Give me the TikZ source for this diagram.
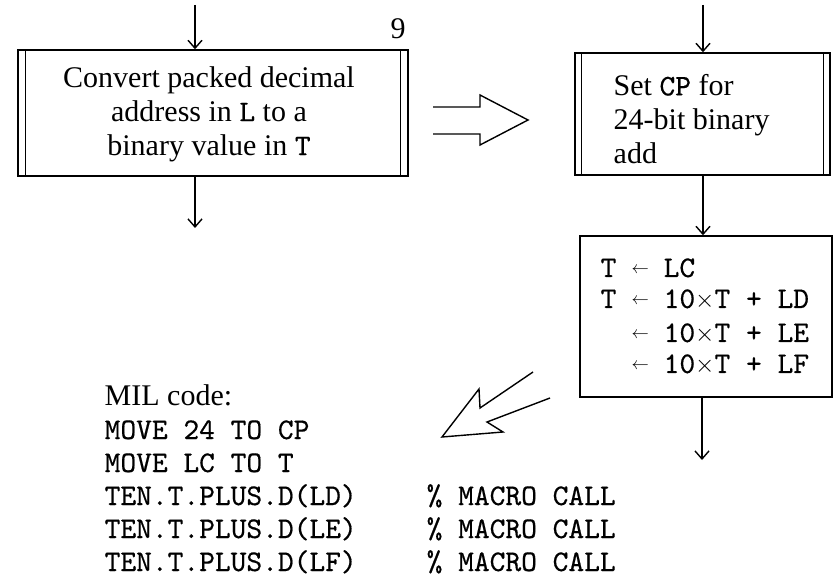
\documentclass[tikz,border=0pt]{standalone}
\usepackage{fontspec}
\setmainfont{Liberation Serif}
\setmonofont{lmmono10-regular}[Extension=.otf,FakeBold=0.5]
\usetikzlibrary{arrows.meta}
\begin{document}
\begin{tikzpicture}[x=1pt,y=-1pt,
  line width=1.4pt,
  flow/.style={-{Straight Barb[length=8pt,width=14pt,line width=1.4pt]}},
  txt/.style={inner sep=0pt,font=\fontsize{30}{34}\selectfont},
  code/.style={inner sep=0pt,anchor=base west,font=\ttfamily\fontsize{30}{32}\selectfont},
  lbl/.style={inner sep=0pt,anchor=base west,font=\fontsize{30}{34}\selectfont},
  arr/.style={inner sep=0pt,anchor=base west,font=\fontsize{17}{17}\selectfont},
  hollow/.style={line width=1.4pt,line join=miter}]
\useasboundingbox (0,0) rectangle (833,577);
% left subroutine box
\node[draw,minimum width=390pt,minimum height=126pt,inner sep=0pt] (box1) at (213,113) {};
\draw ([xshift=8pt]box1.north west) -- ([xshift=8pt]box1.south west);
\draw ([xshift=-8pt]box1.north east) -- ([xshift=-8pt]box1.south east);
\node[txt,align=center] (t1) at (209,114) {Convert packed decimal\\address in {\ttfamily L} to a\\binary value in {\ttfamily T}};
\node[lbl] (nine) at (390,39) {9};
\coordinate (in1) at (195,5);
\coordinate (out1) at (195,228);
\draw[flow] (in1) -- (in1 |- box1.north);
\draw[flow] (out1 |- box1.south) -- (out1);
% hollow right arrow
\draw[hollow] (433,107) -- (480,107) -- (480,95) -- (528,120) -- (480,145) -- (480,134) -- (433,134);
% right subroutine box
\node[draw,minimum width=255pt,minimum height=122pt,inner sep=0pt] (box2) at (702.5,114) {};
\draw ([xshift=7pt]box2.north west) -- ([xshift=7pt]box2.south west);
\draw ([xshift=-7pt]box2.north east) -- ([xshift=-7pt]box2.south east);
\node[txt,align=left,anchor=west] (t2) at (613,119) {Set {\ttfamily CP} for\\24-bit binary\\add};
\coordinate (in2) at (703,5);
\draw[flow] (in2) -- (in2 |- box2.north);
% process box
\node[draw,minimum width=252pt,minimum height=161pt,inner sep=0pt] (box3) at (706,316.5) {};
\draw[flow] (box2.south -| in2) -- (box3.north -| in2);
\coordinate (out3) at (702,460);
\draw[flow] (box3.south -| out3) -- (out3);
\node[code] (r1a) at (600,277) {T};
\node[arr] (r1b) at (631,274) {$\leftarrow$};
\node[code] (r1c) at (663,277) {LC};
\node[code] (r2a) at (600,308) {T};
\node[arr] (r2b) at (631,305) {$\leftarrow$};
\node[code] (r2c) at (663,308) {10$\times$T + LD};
\node[arr] (r3b) at (631,339) {$\leftarrow$};
\node[code] (r3c) at (663,342) {10$\times$T + LE};
\node[arr] (r4b) at (631,370) {$\leftarrow$};
\node[code] (r4c) at (663,373) {10$\times$T + LF};
% hollow diagonal arrow
\draw[hollow] (533,372) -- (480,408) -- (479,389) -- (442,437) -- (503,432) -- (487,422) -- (550,398);
% MIL code
\node[lbl] (m0) at (104,406) {MIL code:};
\node[code] (m1) at (104,439) {MOVE 24 TO CP};
\node[code] (m2) at (104,472) {MOVE LC TO T};
\node[code] (m3) at (104,505) {TEN.T.PLUS.D(LD)};
\node[code] (m4) at (104,538) {TEN.T.PLUS.D(LE)};
\node[code] (m5) at (104,571) {TEN.T.PLUS.D(LF)};
\node[code] (c3) at (426,505) {\% MACRO CALL};
\node[code] (c4) at (426,538) {\% MACRO CALL};
\node[code] (c5) at (426,571) {\% MACRO CALL};
\end{tikzpicture}
\end{document}
